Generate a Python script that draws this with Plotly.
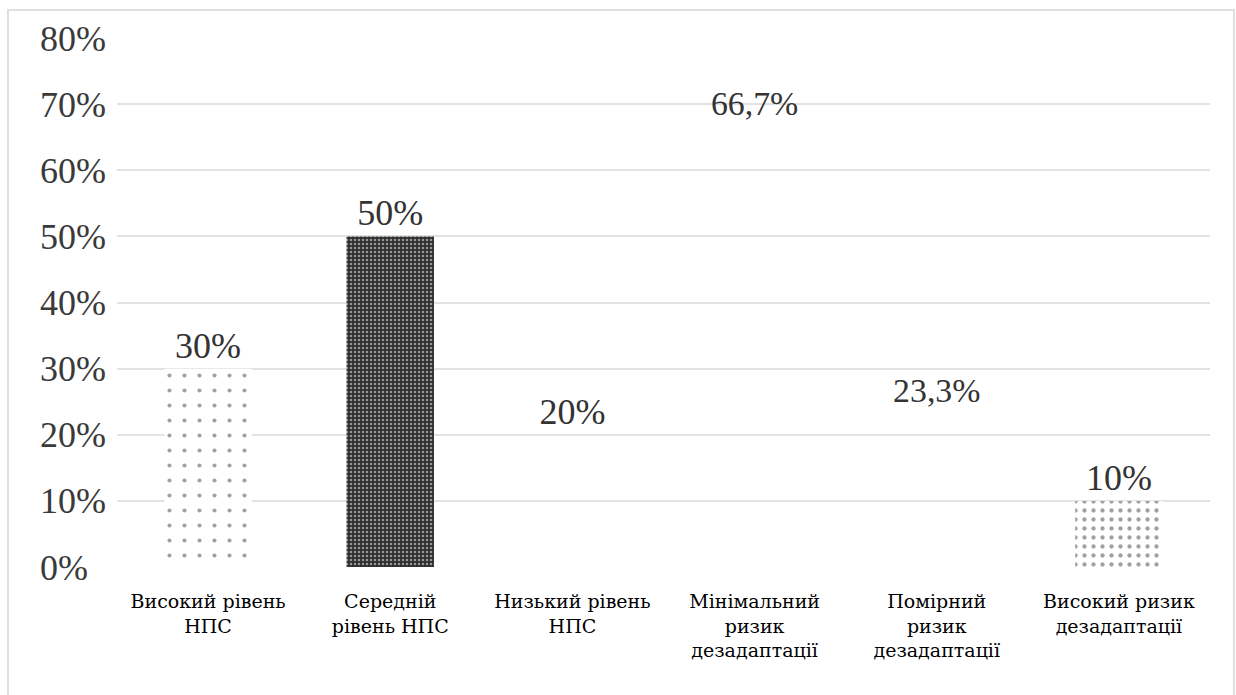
import plotly.graph_objects as go

categories = [
    "Високий рівень<br>НПС",
    "Середній<br>рівень НПС",
    "Низький рівень<br>НПС",
    "Мінімальний<br>ризик<br>дезадаптації",
    "Помірний<br>ризик<br>дезадаптації",
    "Високий ризик<br>дезадаптації",
]
values = [0.30, 0.50, 0.20, 0.667, 0.233, 0.10]
value_labels = ["30%", "50%", "20%", "66,7%", "23,3%", "10%"]
tick_vals = [0, 0.1, 0.2, 0.3, 0.4, 0.5, 0.6, 0.7, 0.8]
tick_text = ["0%\u00a0\u00a0", "10%", "20%", "30%", "40%", "50%", "60%", "70%", "80%"]

clear = "rgba(0,0,0,0)"
colors = ["white", "#2e2e2e", clear, clear, clear, "white"]
shapes = [".", ".", "", "", "", "."]
fg = ["black", "#bdbdbd", "black", "black", "black", "black"]
psize = [15, 4, 8, 8, 8, 9]
psol = [0.06, 0.3, 0.2, 0.2, 0.2, 0.18]

W, H = 1236, 695
L, R, T, B = 117, 26, 38, 128

fig = go.Figure()
fig.add_trace(go.Bar(
    x=categories, y=values, width=0.48,
    text=value_labels, textposition="outside", cliponaxis=False,
    textfont=dict(family="Liberation Serif", size=36, color="#333333"),
    marker=dict(color=colors, line=dict(width=0),
                pattern=dict(shape=shapes, fgcolor=fg, size=psize, solidity=psol,
                             fillmode="overlay")),
))

pw, ph = W - L - R, H - T - B
fig.update_layout(
    width=W, height=H,
    margin=dict(l=L, r=R, t=T, b=B),
    paper_bgcolor="white", plot_bgcolor="white",
    showlegend=False,
    xaxis=dict(showgrid=False, showline=False, ticks="",
               tickfont=dict(family="DejaVu Serif", size=19, color="black"),
               ticklabelstandoff=21),
    yaxis=dict(range=[0, 0.8], tickvals=tick_vals, ticktext=tick_text,
               showgrid=True, gridcolor="#e2e2e2", gridwidth=2,
               zeroline=True, zerolinecolor="white", zerolinewidth=3,
               showline=False, ticks="", ticklabelstandoff=10,
               tickfont=dict(family="Liberation Serif", size=36, color="#3a3a3a")),
    shapes=[dict(type="rect", xref="paper", yref="paper",
                 x0=(8 - L) / pw, x1=(1234 - L) / pw,
                 y0=-0.4, y1=(H - B - 10) / ph,
                 line=dict(color="#e0e0e0", width=2), layer="below")],
)

fig.write_html("out.html")
